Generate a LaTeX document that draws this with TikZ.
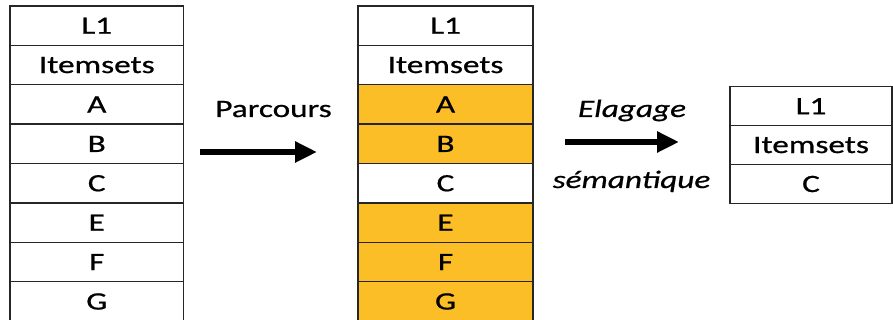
\documentclass[tikz,border=0pt]{standalone}
\usepackage{fontspec}
\setmainfont[FakeStretch=1.33,FakeBold=0.7]{Carlito}
\usetikzlibrary{arrows.meta}
\definecolor{hl}{RGB}{251,190,38}
\tikzset{
  cell/.style={draw=black!85, line width=1.4pt, minimum height=39.4pt, inner sep=0pt,
    font=\fontsize{25}{28}\selectfont},
  lcell/.style={cell, minimum width=173.5pt},
  mcell/.style={cell, minimum width=175pt},
  rcell/.style={cell, minimum width=162pt, minimum height=38.9pt},
  on/.style={fill=hl},
  lbl/.style={font=\fontsize{25}{28}\selectfont, anchor=base, inner sep=0pt},
  bigarrow/.style={line width=5.5pt, -{Triangle[length=22pt,width=20pt]}}
}
\begin{document}
\begin{tikzpicture}[x=1pt,y=1pt]
\useasboundingbox (0,0) rectangle (893,320);
% left table
\node[lcell] (l0) at (96.75,294.3) {L1};
\node[lcell] (l1) at (96.75,254.9) {Itemsets};
\node[lcell] (l2) at (96.75,215.5) {A};
\node[lcell] (l3) at (96.75,176.1) {B};
\node[lcell] (l4) at (96.75,136.7) {C};
\node[lcell] (l5) at (96.75,97.3) {E};
\node[lcell] (l6) at (96.75,57.9) {F};
\node[lcell] (l7) at (96.75,18.5) {G};
% middle table
\node[mcell] (m0) at (445.5,294.3) {L1};
\node[mcell] (m1) at (445.5,254.9) {Itemsets};
\node[mcell,on] (m2) at (445.5,215.5) {A};
\node[mcell,on] (m3) at (445.5,176.1) {B};
\node[mcell] (m4) at (445.5,136.7) {C};
\node[mcell,on] (m5) at (445.5,97.3) {E};
\node[mcell,on] (m6) at (445.5,57.9) {F};
\node[mcell,on] (m7) at (445.5,18.5) {G};
% right table
\node[rcell] (r0) at (811,213.8) {L1};
\node[rcell] (r1) at (811,174.9) {Itemsets};
\node[rcell] (r2) at (811,136.0) {C};
% labels
\node[lbl] (parcours) at (273.5,203) {Parcours};
\node[lbl] (elagage) at (632,203) {\itshape Elagage};
\node[lbl] (semantique) at (631.5,132) {\itshape sémantique};
% arrows
\coordinate (a1s) at (200,168);
\coordinate (a1e) at (317,168);
\coordinate (a2s) at (565,178);
\coordinate (a2e) at (679,178);
\draw[bigarrow] (a1s) -- (a1e);
\draw[bigarrow] (a2s) -- (a2e);
\end{tikzpicture}
\end{document}
